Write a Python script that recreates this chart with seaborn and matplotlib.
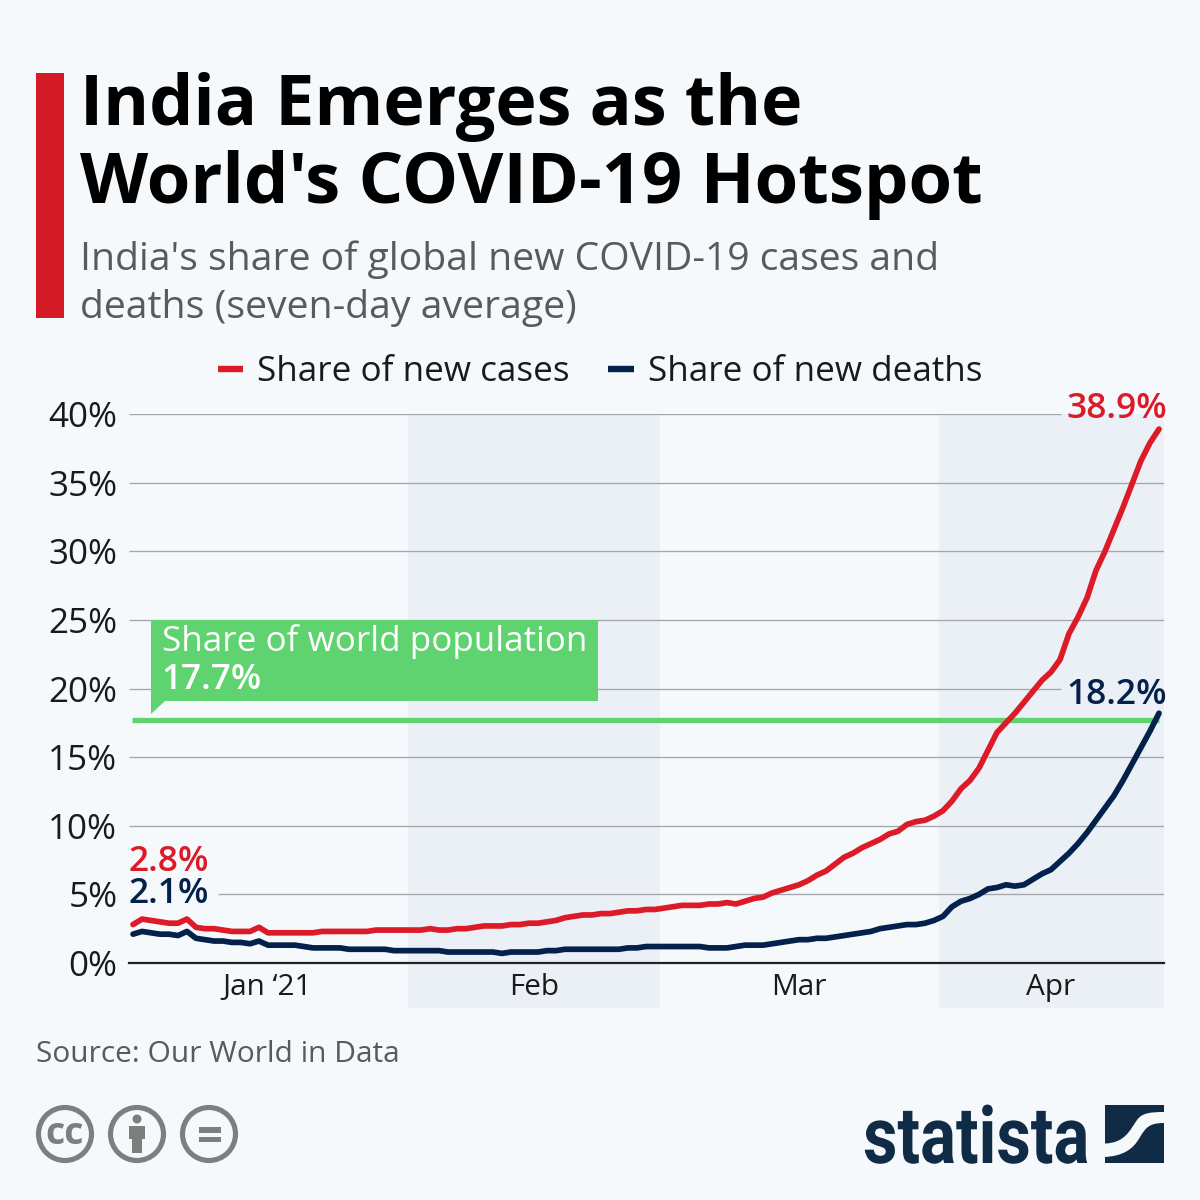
import pandas as pd
import numpy as np
import matplotlib
matplotlib.use("Agg")
import matplotlib.pyplot as plt
import seaborn as sns
from matplotlib.patches import Circle, PathPatch, Polygon, Rectangle
from matplotlib.path import Path
from matplotlib.patheffects import AbstractPathEffect
from matplotlib.transforms import Affine2D

cases_share = [2.8, 3.2, 3.1, 3.0, 2.9, 2.9, 3.2, 2.6, 2.5, 2.5, 2.4, 2.3, 2.3, 2.3, 2.6, 2.2, 2.2, 2.2, 2.2, 2.2,
               2.2, 2.3, 2.3, 2.3, 2.3, 2.3, 2.3, 2.4, 2.4, 2.4, 2.4, 2.4, 2.4, 2.5, 2.4, 2.4, 2.5, 2.5, 2.6, 2.7,
               2.7, 2.7, 2.8, 2.8, 2.9, 2.9, 3.0, 3.1, 3.3, 3.4, 3.5, 3.5, 3.6, 3.6, 3.7, 3.8, 3.8, 3.9, 3.9, 4.0,
               4.1, 4.2, 4.2, 4.2, 4.3, 4.3, 4.4, 4.3, 4.5, 4.7, 4.8, 5.1, 5.3, 5.5, 5.7, 6.0, 6.4, 6.7, 7.2, 7.7,
               8.0, 8.4, 8.7, 9.0, 9.4, 9.6, 10.1, 10.3, 10.4, 10.7, 11.1, 11.8, 12.7, 13.3, 14.2, 15.5, 16.8, 17.5, 18.2, 19.0,
               19.8, 20.6, 21.2, 22.1, 24.0, 25.2, 26.6, 28.6, 30.0, 31.6, 33.2, 34.9, 36.6, 37.9, 38.9]
deaths_share = [2.1, 2.3, 2.2, 2.1, 2.1, 2.0, 2.3, 1.8, 1.7, 1.6, 1.6, 1.5, 1.5, 1.4, 1.6, 1.3, 1.3, 1.3, 1.3, 1.2,
                1.1, 1.1, 1.1, 1.1, 1.0, 1.0, 1.0, 1.0, 1.0, 0.9, 0.9, 0.9, 0.9, 0.9, 0.9, 0.8, 0.8, 0.8, 0.8, 0.8,
                0.8, 0.7, 0.8, 0.8, 0.8, 0.8, 0.9, 0.9, 1.0, 1.0, 1.0, 1.0, 1.0, 1.0, 1.0, 1.1, 1.1, 1.2, 1.2, 1.2,
                1.2, 1.2, 1.2, 1.2, 1.1, 1.1, 1.1, 1.2, 1.3, 1.3, 1.3, 1.4, 1.5, 1.6, 1.7, 1.7, 1.8, 1.8, 1.9, 2.0,
                2.1, 2.2, 2.3, 2.5, 2.6, 2.7, 2.8, 2.8, 2.9, 3.1, 3.4, 4.1, 4.5, 4.7, 5.0, 5.4, 5.5, 5.7, 5.6, 5.7,
                6.1, 6.5, 6.8, 7.4, 8.0, 8.7, 9.5, 10.4, 11.3, 12.2, 13.3, 14.5, 15.7, 16.9, 18.2]
population_share = 17.7
y_ticks = [0, 5, 10, 15, 20, 25, 30, 35, 40]
month_labels = ["Jan ‘21", "Feb", "Mar", "Apr"]

BG = "#f5f9fc"
BAND = "#ebf0f7"
RED = "#dc1a28"
NAVY = "#03214a"
GREEN = "#5fd36f"
GREY = "#7b807e"
LOGO = "#0f2b46"


class SqueezeX(AbstractPathEffect):
    # narrows a text horizontally around its left edge, there is no condensed font here
    def __init__(self, x0, factor):
        super().__init__()
        self.x0 = x0
        self.factor = factor

    def draw_path(self, renderer, gc, tpath, affine, rgbFace=None):
        squeeze = Affine2D().translate(-self.x0, 0).scale(self.factor, 1).translate(self.x0, 0)
        renderer.draw_path(gc, tpath, affine + squeeze, rgbFace)


sns.set_theme(style="white", rc={"figure.facecolor": BG, "axes.facecolor": "none", "savefig.facecolor": BG})
plt.rcParams["font.family"] = ["Open Sans", "DejaVu Sans"]

dates = pd.date_range("2021-01-01", periods=len(cases_share), freq="D")
df = pd.DataFrame({"date": dates, "Share of new cases": cases_share, "Share of new deaths": deaths_share})
df_long = df.melt(id_vars="date", var_name="series", value_name="share")


def px_date(px):
    # pixel column of the picture to a date on the x axis
    return dates[0] + pd.Timedelta(days=(px - 133) / 9)


fig = plt.figure(figsize=(12, 12), dpi=100)
ax = fig.add_axes([128.5 / 1200, 1 - 963 / 1200, 1035 / 1200, 549 / 1200])

# month bands
half = pd.Timedelta(hours=12)
ax.axvspan(pd.Timestamp("2021-02-01") - half, pd.Timestamp("2021-03-01") - half, ymin=-45 / 549, ymax=1,
           color=BAND, lw=0, zorder=0, clip_on=False)
ax.axvspan(pd.Timestamp("2021-04-01") - half, dates[-1] + half, ymin=-45 / 549, ymax=1,
           color=BAND, lw=0, zorder=0, clip_on=False)

# gridlines stop short of the value labels
x_left, x_right = dates[0] - half, dates[-1] + half
for t in y_ticks[1:]:
    x0 = px_date(218) if t == 5 else x_left
    x1 = px_date(1061) if t in (20, 40) else x_right
    ax.hlines(t, x0, x1, color="#a3a7a9", lw=0.95, zorder=1)

ax.hlines(population_share, px_date(132), dates[-1], color=GREEN, lw=3.8, zorder=2)

sns.lineplot(data=df_long, x="date", y="share", hue="series", palette=[RED, NAVY], lw=4.1, ax=ax, zorder=3,
             solid_capstyle="round", solid_joinstyle="round", errorbar=None)

ax.set_xlim(x_left, x_right)
ax.set_ylim(0, 40)
ax.set_xlabel("")
ax.set_ylabel("")
ax.set_yticks(y_ticks)
ax.set_yticklabels([f"{t}%" for t in y_ticks], fontsize=25.2, color="#1a1a1a")
month_mid = [px_date(p) for p in (267, 534, 799, 1051)]
ax.set_xticks(month_mid)
ax.set_xticklabels(month_labels, fontsize=21.4, color="#1a1a1a")
ax.tick_params(axis="x", length=0, pad=7)
ax.tick_params(axis="y", length=0, pad=8)
sns.despine(ax=ax, left=True)
ax.spines["bottom"].set_color("#222222")
ax.spines["bottom"].set_linewidth(1.6)

handles, labels = ax.get_legend_handles_labels()
leg = ax.legend(handles, labels, ncol=2, frameon=False, fontsize=25.2, loc="center",
                bbox_to_anchor=(0.5, 1 - 372 / 1200), bbox_transform=fig.transFigure,
                handlelength=0.72, handletextpad=0.4, columnspacing=1.1, labelcolor="#1a1a1a")
for h in leg.get_lines():
    h.set_linewidth(4.6)
    h.set_solid_capstyle("butt")

# value labels at both ends of the lines
for val, col, anchor, off, ha in [
    (cases_share[0], RED, dates[0], (-5, 54), "left"),
    (deaths_share[0], NAVY, dates[0], (-5, 31), "left"),
    (cases_share[-1], RED, dates[-1], (8, 11), "right"),
    (deaths_share[-1], NAVY, dates[-1], (8, 9), "right"),
]:
    ax.annotate(f"{val}%", (anchor, val), xytext=off, textcoords="offset pixels", ha=ha, va="baseline",
                fontsize=25.5, color=col, fontweight=600, annotation_clip=False, zorder=5)

# overlay in picture pixels for header, callout and footer
ov = fig.add_axes([0, 0, 1, 1], facecolor="none")
ov.set_xlim(0, 1200)
ov.set_ylim(1200, 0)
ov.axis("off")

ov.add_patch(Rectangle((36, 73), 28, 245, fc="#d31a26", lw=0))
ov.text(80, 125, "India Emerges as the", fontsize=50.45, fontweight="bold", color="black", va="baseline")
ov.text(80, 203, "World's COVID-19 Hotspot", fontsize=50.75, fontweight="bold", color="black", va="baseline")
ov.text(80, 270, "India's share of global new COVID-19 cases and", fontsize=28.2, color="#565b5e", va="baseline")
ov.text(80, 318, "deaths (seven-day average)", fontsize=28.25, color="#565b5e", va="baseline")

ov.add_patch(Polygon([(151, 620), (598, 620), (598, 701), (165, 701), (151, 714)], closed=True, fc=GREEN, lw=0))
ov.text(162, 651, "Share of world population", fontsize=25.2, color="white", va="baseline")
ov.text(161, 689, f"{population_share}%", fontsize=25.3, color="white", fontweight=600, va="baseline")

ov.text(36, 1062, "Source: Our World in Data", fontsize=21.5, color="#565b5e", va="baseline")

# licence icons
for cx in (65, 137, 209):
    ov.add_patch(Circle((cx, 1134), 26.5, fc="none", ec=GREY, lw=3.7))
ov.text(65, 1134, "cc", fontsize=27, fontweight="bold", color=GREY, ha="center", va="center")
ov.add_patch(Circle((137, 1119), 4.5, fc=GREY, lw=0))
ov.add_patch(Rectangle((129, 1126), 16, 13, fc=GREY, lw=0))
ov.add_patch(Rectangle((132, 1139), 10, 14, fc=GREY, lw=0))
ov.add_patch(Rectangle((199, 1127), 22, 6, fc=GREY, lw=0))
ov.add_patch(Rectangle((199, 1137), 22, 5, fc=GREY, lw=0))

# statista logo
logo_txt = ov.text(863, 1163, "statista", fontsize=57, fontweight="bold", color=LOGO, va="baseline", family="Roboto")
logo_width = logo_txt.get_window_extent(fig.canvas.get_renderer()).width
logo_txt.set_path_effects([SqueezeX(863, 226 / logo_width)])
ov.add_patch(Rectangle((1105, 1105), 59, 58, fc=LOGO, lw=0))
wave = Path(
    [(1105, 1143.5), (1125, 1143), (1130, 1130), (1137, 1120), (1142, 1113), (1150, 1112), (1164, 1112),
     (1164, 1123), (1150, 1123), (1146, 1127), (1140, 1137), (1133, 1150), (1122, 1156), (1105, 1157), (1105, 1143.5)],
    [Path.MOVETO, Path.CURVE4, Path.CURVE4, Path.CURVE4, Path.CURVE4, Path.CURVE4, Path.CURVE4,
     Path.LINETO, Path.CURVE4, Path.CURVE4, Path.CURVE4, Path.CURVE4, Path.CURVE4, Path.CURVE4, Path.CLOSEPOLY],
)
ov.add_patch(PathPatch(wave, fc=BG, lw=0))

fig.savefig("out.png", dpi=100)
